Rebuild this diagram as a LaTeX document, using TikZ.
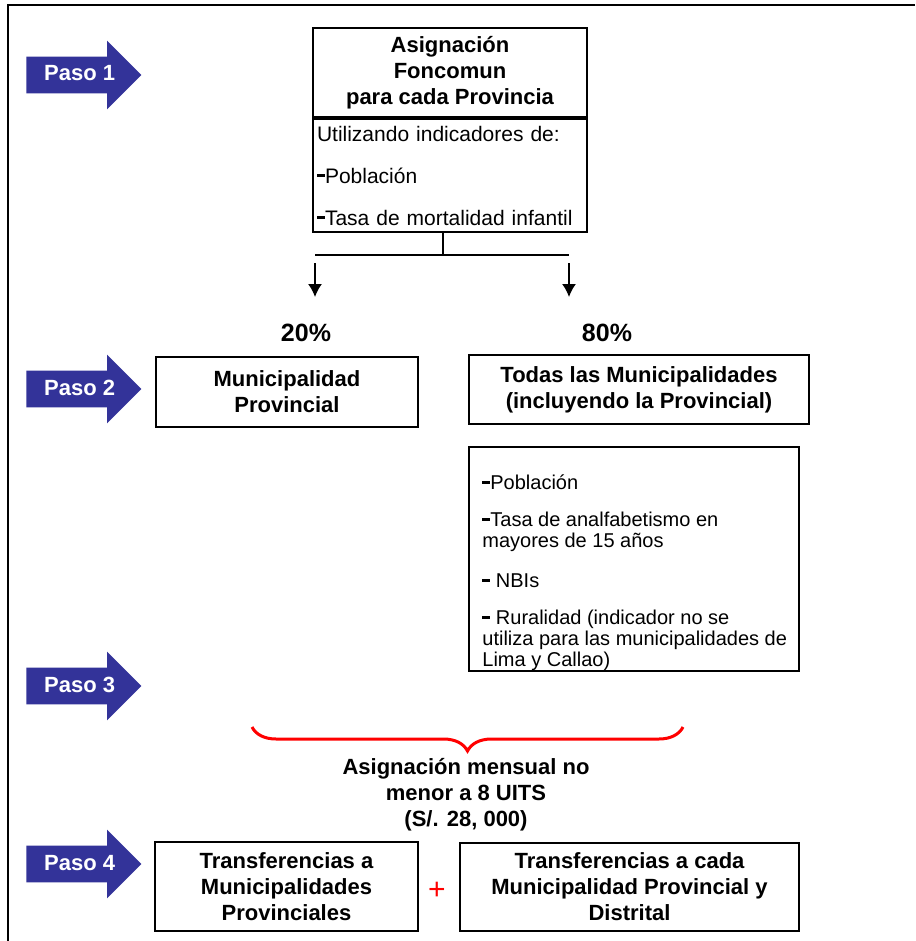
\documentclass[tikz,border=0pt]{standalone}
\usepackage{fontspec}
\setmainfont{Liberation Sans}
\usetikzlibrary{positioning}
\usetikzlibrary{calc}
\usetikzlibrary{arrows.meta,shapes.arrows,decorations.pathreplacing}

\definecolor{pasoazul}{HTML}{333399}
\newcommand{\guion}{\rule[0.55ex]{4pt}{1.3pt}}

\tikzset{
caja/.style={draw, line width=0.9pt, align=center, inner sep=0pt, font=\fontsize{11}{13}\selectfont\bfseries},
paso/.style={single arrow, fill=pasoazul, text=white, anchor=tail, minimum height=57.5pt, single arrow head extend=8pt, inner xsep=2pt, inner ysep=4pt, text height=8pt, text depth=2pt, font=\fontsize{11}{13}\selectfont\bfseries},
lista/.style={align=left, inner sep=0pt, font=\fontsize{10}{10.5}\selectfont},
flecha/.style={-{Latex[length=6.5pt,width=7pt]}, line width=0.8pt},
}

\begin{document}
\begin{tikzpicture}[x=0.5pt,y=-0.5pt]
\useasboundingbox (0,0) rectangle (915,941);
\draw[line width=1pt](8,941)--(8,5)--(915,5);

\node[paso](paso1) at (26,75){\hspace{5pt}Paso 1};
\node[paso](paso2) at (26,389){\hspace{5pt}Paso 2};
\node[paso](paso3) at (26,686){\hspace{5pt}Paso 3};
\node[paso](paso4) at (26,864){\hspace{5pt}Paso 4};

\node[caja, minimum width=137pt, minimum height=44.5pt](titulo) at (450,72.5){Asignación\\Foncomun\\para cada Provincia};
\node[draw, line width=0.9pt, minimum width=137pt, minimum height=56.5pt, text width=133pt, align=left, inner xsep=2pt, inner ysep=0pt, font=\fontsize{10.5}{11}\selectfont](indicadores) at (450,175.5){Utilizando indicadores de:\\[10pt]\guion Población\\[10pt]\guion Tasa de mortalidad infantil};

\coordinate (rama) at (443,255);
\coordinate (ramaI) at (315,255);
\coordinate (ramaD) at (569,255);
\coordinate (iniI) at (315,263);
\coordinate (finI) at (315,297);
\coordinate (iniD) at (569,263);
\coordinate (finD) at (569,297);

\draw[line width=0.8pt](indicadores.south -| rama)--(rama);
\draw[line width=0.8pt](ramaI)--(ramaD);
\path
(iniI) edge[flecha] (finI)
(iniD) edge[flecha] (finD);

\node[font=\fontsize{12.5}{14}\selectfont\bfseries](pct20) at (306,333){20\%};
\node[font=\fontsize{12.5}{14}\selectfont\bfseries](pct80) at (607,333){80\%};

\node[caja, minimum width=131pt, minimum height=35pt](provincial) at (287,392){Municipalidad\\Provincial};
\node[caja, minimum width=170pt, minimum height=34.5pt](todas) at (639,389.5){Todas las Municipalidades\\(incluyendo la Provincial)};

\node[draw, line width=0.9pt, minimum width=165pt, minimum height=112pt](criterios) at (634,559){};
\node[lista, anchor=west](criteriostxt) at (482,573){\guion Población\\[8pt]\guion Tasa de analfabetismo en\\mayores de 15 años\\[9.5pt]\guion\ NBIs\\[8pt]\guion\ Ruralidad (indicador no se\\utiliza para las municipalidades de\\Lima y Callao)};

\coordinate (llaveI) at (252,727);
\coordinate (llaveD) at (683,727);
\draw[red, line width=1.5pt, decorate, decoration={brace, mirror, amplitude=12pt}](llaveI)--(llaveD);

\node[font=\fontsize{11}{13}\selectfont\bfseries, align=center](mensual) at (466,795){Asignación mensual no\\menor a 8 UITS\\(S/. 28, 000)};

\node[caja, minimum width=131.5pt, minimum height=44.5pt](transfProv) at (286.5,886.5){Transferencias a\\Municipalidades\\Provinciales};
\node[caja, minimum width=169.5pt, minimum height=44pt](transfDist) at (629.5,887){Transferencias a cada\\Municipalidad Provincial y\\Distrital};
\node[text=red, font=\fontsize{15}{15}\selectfont](mas) at (437,891){+};
\end{tikzpicture}
\end{document}
